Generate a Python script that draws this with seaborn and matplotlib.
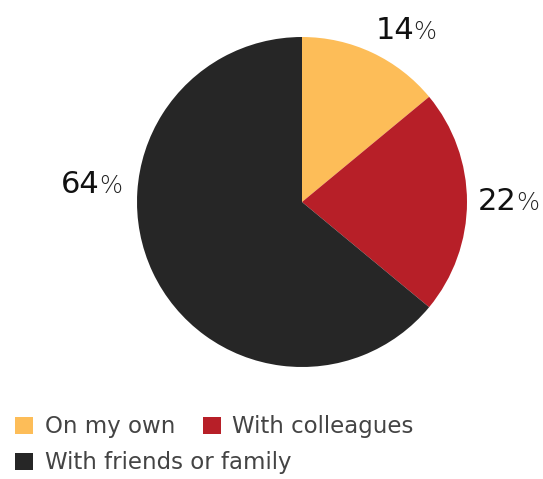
import matplotlib
matplotlib.use("Agg")
import matplotlib.pyplot as plt
import seaborn as sns
from matplotlib.patches import Patch

sns.set_theme(style="white")
plt.rcParams["font.family"] = ["DejaVu Sans"]

# Share of respondents by who they are with
categories = ["On my own", "With colleagues", "With friends or family"]
shares = [14, 22, 64]
colors = ["#FDBD58", "#B71F28", "#262626"]

# Anchor (data units, radius = 1) where each number ends and its % sign begins
label_anchor = [(0.679, 0.988), (1.303, -0.048), (-1.224, 0.055)]

W, H, DPI = 543, 479, 100
fig = plt.figure(figsize=(W / DPI, H / DPI), dpi=DPI)
fig.patch.set_facecolor("white")
ax = fig.add_axes([0, 0, 1, 1])

wedges, _ = ax.pie(
    shares,
    colors=colors,
    startangle=90,
    counterclock=False,
    wedgeprops=dict(linewidth=0),
)

# pie centre at (302, 202) px with radius 165 px
R, cx, cy = 165.0, 302.0, 202.0
ax.set_xlim(-cx / R, (W - cx) / R)
ax.set_ylim(-(H - cy) / R, cy / R)
ax.set_aspect("equal")
ax.axis("off")

for v, (x, y) in zip(shares, label_anchor):
    ax.text(x, y, f"{v}", ha="right", va="baseline", fontsize=22, color="#111111")
    ax.text(x - 0.005, y, "%", ha="left", va="baseline", fontsize=17.5,
            color="#222222", fontweight="light")

handles = [Patch(facecolor=c, edgecolor="none") for c in colors]
leg_kw = dict(frameon=False, fontsize=16.5, handlelength=0.8, handleheight=0.8,
              handletextpad=0.5, borderpad=0, borderaxespad=0, labelcolor="#444444")

leg1 = fig.legend(handles[:2], categories[:2], loc="center left", ncol=2,
                  columnspacing=1.2, bbox_to_anchor=(15 / W, 1 - 427 / H), **leg_kw)
leg2 = fig.legend(handles[2:], categories[2:], loc="center left",
                  bbox_to_anchor=(15 / W, 1 - 463 / H), **leg_kw)

fig.savefig("out.png", dpi=DPI, facecolor="white")
